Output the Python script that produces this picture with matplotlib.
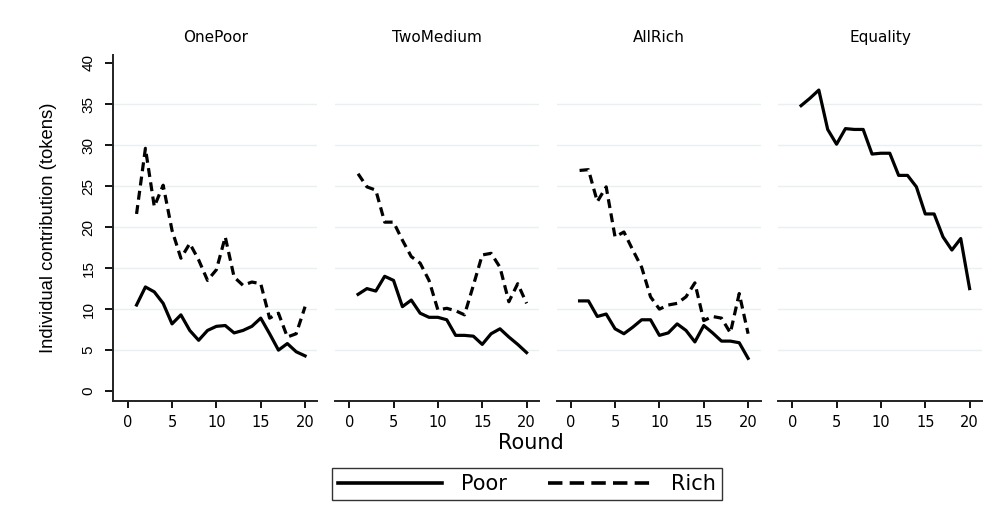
import matplotlib
matplotlib.use("Agg")
import matplotlib.pyplot as plt
from matplotlib.lines import Line2D

plt.rcParams['font.family'] = ['DejaVu Sans']
narrow = ['Liberation Sans', 'DejaVu Sans']

rounds = list(range(1, 21))
panels = ["OnePoor", "TwoMedium", "AllRich", "Equality"]

onepoor_poor = [10.5, 12.7, 12.1, 10.7, 8.2, 9.3, 7.4, 6.2, 7.4, 7.9,
                8.0, 7.1, 7.4, 7.9, 8.9, 7.0, 5.0, 5.8, 4.8, 4.3]
onepoor_rich = [21.6, 29.6, 22.5, 25.1, 19.6, 16.2, 18.0, 16.0, 13.5, 14.8,
                18.8, 13.9, 12.9, 13.3, 13.1, 8.9, 9.5, 6.6, 7.0, 10.3]
twomed_poor = [11.8, 12.5, 12.2, 14.0, 13.5, 10.3, 11.1, 9.5, 9.0, 9.0,
               8.7, 6.8, 6.8, 6.7, 5.7, 7.0, 7.6, 6.6, 5.7, 4.7]
twomed_rich = [26.5, 24.9, 24.5, 20.6, 20.6, 18.4, 16.4, 15.6, 13.5, 9.9,
               10.1, 9.8, 9.3, 12.9, 16.6, 16.8, 15.1, 10.9, 13.1, 10.7]
allrich_poor = [11.0, 11.0, 9.1, 9.4, 7.6, 7.0, 7.8, 8.7, 8.7, 6.8,
                7.1, 8.2, 7.4, 6.0, 8.0, 7.1, 6.1, 6.1, 5.9, 4.0]
allrich_rich = [26.9, 27.0, 23.1, 24.9, 18.8, 19.4, 17.2, 15.1, 11.5, 10.0,
                10.5, 10.7, 11.5, 13.2, 8.6, 9.1, 8.9, 7.1, 11.9, 7.0]
equality = [34.8, 35.7, 36.7, 31.9, 30.1, 32.0, 31.9, 31.9, 28.9, 29.0,
            29.0, 26.3, 26.3, 24.9, 21.6, 21.6, 18.8, 17.2, 18.6, 12.5]

poor_series = [onepoor_poor, twomed_poor, allrich_poor, equality]
rich_series = [onepoor_rich, twomed_rich, allrich_rich, None]

y_ticks = [0, 5, 10, 15, 20, 25, 30, 35, 40]
x_ticks = [0, 5, 10, 15, 20]

fig, axes = plt.subplots(1, 4, figsize=(10.07, 5.12), dpi=100)
plt.subplots_adjust(left=0.1127, right=0.9752, bottom=0.2168, top=0.893, wspace=0.0858)

dash = (0, (2.8, 1.7))
for i, ax in enumerate(axes):
    for g in y_ticks[1:-1]:
        ax.axhline(g, color='#e8f0f3', lw=1.0, zorder=0)
    ax.plot(rounds, poor_series[i], color='black', lw=2.3)
    if rich_series[i] is not None:
        ax.plot(rounds, rich_series[i], color='black', lw=2.3, linestyle=dash)
    ax.set_xlim(-1.6, 21.4)
    ax.set_ylim(-1.2, 41)
    ax.set_title(panels[i], fontsize=11, pad=9)
    for s in ['top', 'right']:
        ax.spines[s].set_visible(False)
    ax.spines['bottom'].set_linewidth(1.4)
    ax.spines['bottom'].set_color('#222222')
    ax.set_xticks(x_ticks)
    ax.tick_params(axis='x', length=5, width=1.3, labelsize=10.5, pad=5)
    if i == 0:
        ax.spines['left'].set_linewidth(1.4)
        ax.spines['left'].set_color('#222222')
        ax.set_yticks(y_ticks)
        ax.set_yticklabels([str(v) for v in y_ticks], rotation=90, va='center', family=narrow)
        ax.tick_params(axis='y', length=6, width=1.3, labelsize=11, pad=7)
        ax.set_ylabel('Individual contribution (tokens)', fontsize=13.3, family=narrow)
        ax.yaxis.set_label_coords(-0.277, 0.5)
    else:
        ax.spines['left'].set_visible(False)
        ax.set_yticks([])

fig.text(0.527, 0.135, 'Round', ha='center', va='center', fontsize=15)

handles = [Line2D([], [], color='black', lw=2.6),
           Line2D([], [], color='black', lw=2.6, linestyle=(0, (4.0, 2.0)))]
leg = fig.legend(handles, ['Poor', 'Rich'], loc='center', bbox_to_anchor=(0.5233, 0.0547),
                 ncol=2, fontsize=15, frameon=True, fancybox=False, handlelength=5.0,
                 columnspacing=2.0, handletextpad=0.9, borderpad=0.28)
leg.get_frame().set_edgecolor('black')
leg.get_frame().set_linewidth(1.0)

fig.savefig('out.png', dpi=100, facecolor='white')
